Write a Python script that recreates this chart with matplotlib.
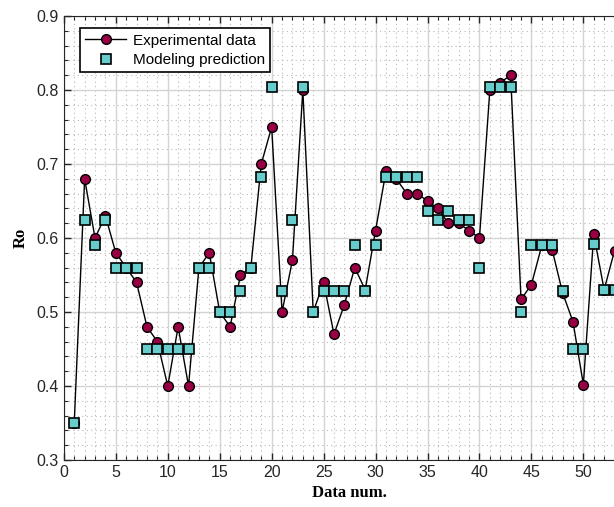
import numpy as np
import matplotlib
matplotlib.use("Agg")
import matplotlib.pyplot as plt
from matplotlib.ticker import MultipleLocator

# data
data_num = np.arange(1, 54)
experimental = [0.35, 0.68, 0.60, 0.63, 0.58, 0.56, 0.54, 0.48, 0.46, 0.40,
                0.48, 0.40, 0.56, 0.58, 0.50, 0.48, 0.55, 0.56, 0.70, 0.75,
                0.50, 0.57, 0.80, 0.50, 0.54, 0.47, 0.51, 0.56, 0.53, 0.61,
                0.69, 0.68, 0.66, 0.66, 0.65, 0.64, 0.62, 0.62, 0.61, 0.60,
                0.80, 0.81, 0.82, 0.517, 0.537, 0.59, 0.584, 0.526, 0.487, 0.402,
                0.605, 0.53, 0.583]
prediction = [0.35, 0.625, 0.59, 0.625, 0.56, 0.56, 0.56, 0.45, 0.45, 0.45,
              0.45, 0.45, 0.56, 0.56, 0.50, 0.50, 0.529, 0.56, 0.682, 0.804,
              0.529, 0.625, 0.804, 0.50, 0.529, 0.529, 0.529, 0.59, 0.529, 0.59,
              0.683, 0.683, 0.683, 0.683, 0.636, 0.625, 0.636, 0.625, 0.625, 0.56,
              0.804, 0.804, 0.804, 0.50, 0.59, 0.59, 0.59, 0.529, 0.45, 0.45,
              0.592, 0.53, 0.53]
x_ticks = [0, 5, 10, 15, 20, 25, 30, 35, 40, 45, 50]

fig = plt.figure(figsize=(6.14, 5.07), dpi=100)
# axes runs past the right edge, as in the reference (cropped)
ax = fig.add_axes([0.104, 0.0927, 0.9307, 0.8757])

ax.plot(data_num, experimental, '-o', color='black', lw=1,
        markerfacecolor='#990044', markeredgecolor='black', markeredgewidth=1,
        markersize=7, label='Experimental data', zorder=3)
ax.plot(data_num, prediction, 's', markerfacecolor='#66CCCC',
        markeredgecolor='black', markeredgewidth=1.2, markersize=6.5,
        label='Modeling prediction', zorder=4)

ax.set_xlim(0, 55)
ax.set_ylim(0.3, 0.9)
ax.set_xticks(x_ticks)
ax.xaxis.set_minor_locator(MultipleLocator(1))
ax.yaxis.set_major_locator(MultipleLocator(0.1))
ax.yaxis.set_minor_locator(MultipleLocator(0.02))

ax.grid(which='major', color='#d4d4d4', lw=1, ls='-')
ax.grid(which='minor', color='#b8b8b8', lw=0.8, ls=(0, (1, 3)))
ax.set_axisbelow(True)

ax.tick_params(which='both', direction='in', top=True, right=False,
               labelsize=11.5, colors='#262626')
ax.tick_params(which='major', length=5, width=1)
ax.tick_params(which='minor', length=3, width=0.8)
for lab in ax.get_xticklabels() + ax.get_yticklabels():
    lab.set_family('Liberation Sans')
for s in ['left', 'bottom', 'top']:
    ax.spines[s].set_color('#262626')
ax.spines['right'].set_visible(False)

ax.set_xlabel('Data num.', family='Liberation Serif', fontweight='bold',
              fontsize=12, labelpad=4)
ax.set_ylabel('Ro', family='Liberation Serif', fontweight='bold',
              fontsize=12, labelpad=6)

leg = ax.legend(loc='upper left', bbox_to_anchor=(0.028, 0.972),
                prop={'family': 'Liberation Sans', 'size': 11},
                fancybox=False, framealpha=1, edgecolor='black',
                borderpad=0.35, handlelength=2.7, labelspacing=0.35,
                handletextpad=0.4, borderaxespad=0)
leg.get_frame().set_linewidth(1.2)

fig.savefig('out.png', dpi=100)
